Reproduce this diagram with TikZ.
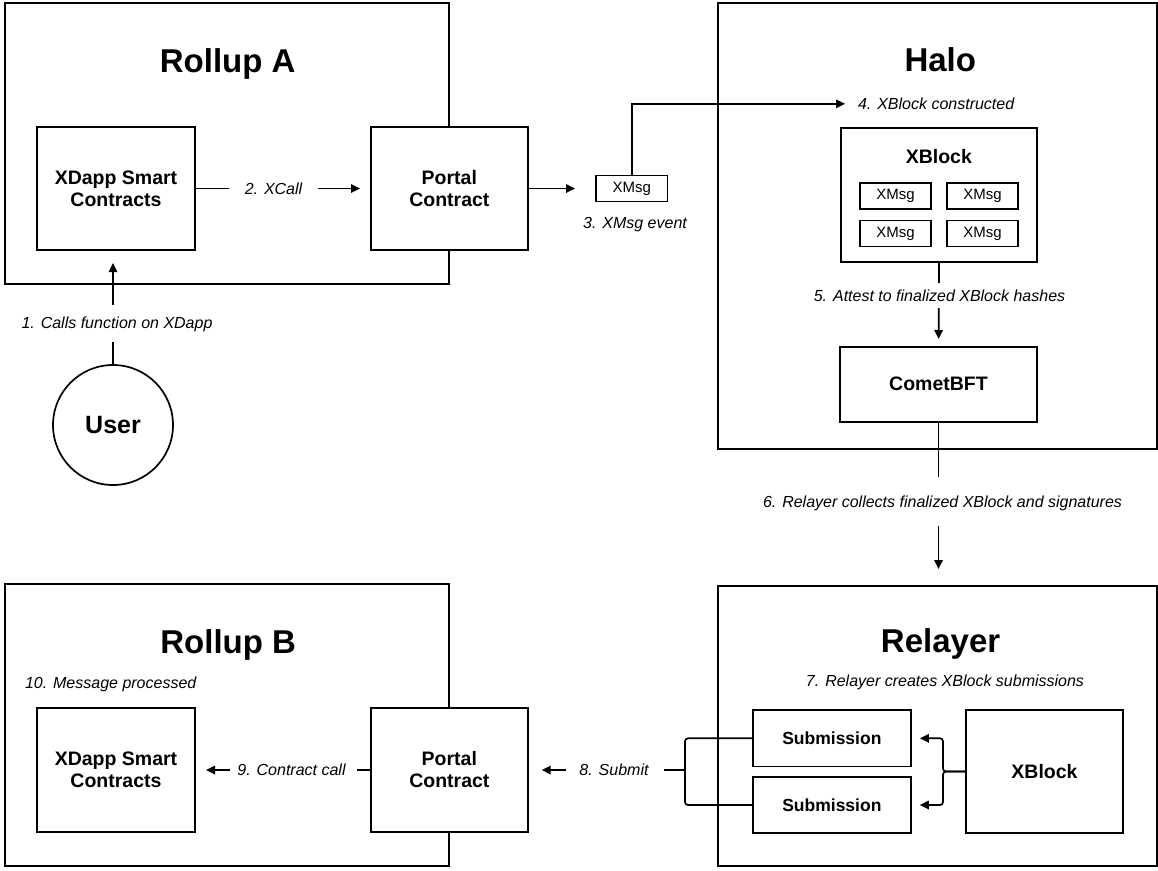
\documentclass[tikz,border=0pt]{standalone}
\usepackage{fontspec}
\setmainfont{Liberation Sans}
\usetikzlibrary{arrows.meta,calc}
\begin{document}
\begin{tikzpicture}[x=1pt,y=-1pt,
  every node/.style={inner sep=0pt, outer sep=0pt},
  frame/.style={draw, line width=1.7pt, rectangle},
  box/.style={draw, line width=1.7pt, fill=white, rectangle, align=center,
    font=\fontsize{19.5}{22}\selectfont\bfseries},
  subbox/.style={box, minimum width=158pt, minimum height=56.5pt,
    font=\fontsize{17.5}{21}\selectfont\bfseries},
  xmsgbox/.style={draw, line width=1.5pt, fill=white, rectangle,
    minimum width=71pt, minimum height=26pt, font=\fontsize{15}{18}\selectfont},
  ttl/.style={font=\fontsize{33}{36}\selectfont\bfseries, anchor=base},
  lbl/.style={font=\fontsize{16}{19}\selectfont\itshape, text height=11.5pt, text depth=0pt},
  conn/.style={line width=1.7pt},
  arr/.style={line width=1.7pt, -{Triangle[length=9pt,width=8.5pt]}}
]
\useasboundingbox (0,0) rectangle (1158,870);
\fill[white] (0,0) rectangle (1158,870);

% outer frames
\node[frame, minimum width=443.7pt, minimum height=281pt] (rollA) at (226.85,143.5) {};
\node[frame, minimum width=439.3pt, minimum height=446.3pt] (halo) at (937.65,226.15) {};
\node[frame, minimum width=443.7pt, minimum height=282pt] (rollB) at (226.85,725) {};
\node[frame, minimum width=439.3pt, minimum height=280pt] (relay) at (937.65,726) {};

% titles
\node[ttl] (tRA) at (227.7,72) {Rollup A};
\node[ttl] (tHalo) at (940.3,71.5) {Halo};
\node[ttl] (tRB) at (228.2,653) {Rollup B};
\node[ttl] (tRel) at (940.6,652) {Relayer};

% Rollup A
\node[box, minimum width=158pt, minimum height=123pt] (xdA) at (116,188.5) {XDapp Smart\\Contracts};
\node[box, minimum width=157.3pt, minimum height=123pt] (poA) at (449.35,188.5) {Portal\\Contract};
\node[xmsgbox, minimum width=71.7pt] (xmsgA) at (631.85,188.5) {XMsg};

% User
\node[draw, circle, line width=1.7pt, minimum size=120pt,
  font=\fontsize{25}{28}\selectfont\bfseries] (user) at (113,425) {User};

% Halo
\node[draw, line width=1.7pt, fill=white, rectangle, minimum width=196.3pt, minimum height=134pt] (xbH) at (938.85,194.7) {};
\node[font=\fontsize{19.5}{22}\selectfont\bfseries] (xbHt) at (938.8,157) {XBlock};
\node[xmsgbox] (m1) at (895.5,196) {XMsg};
\node[xmsgbox] (m2) at (982.5,196) {XMsg};
\node[xmsgbox] (m3) at (895.5,233.7) {XMsg};
\node[xmsgbox] (m4) at (982.5,233.7) {XMsg};
\node[box, minimum width=197pt, minimum height=75pt] (comet) at (938.5,384.2) {CometBFT};

% Rollup B
\node[box, minimum width=158pt, minimum height=124pt] (xdB) at (116,770) {XDapp Smart\\Contracts};
\node[box, minimum width=157.3pt, minimum height=124pt] (poB) at (449.35,770) {Portal\\Contract};

% Relayer
\node[subbox] (sub1) at (831.85,738.3) {Submission};
\node[subbox] (sub2) at (831.85,805) {Submission};
\node[box, minimum width=157pt, minimum height=123pt] (xbR) at (1044.5,771.5) {XBlock};

% labels
\node[lbl] (l1) at (117,323) {1. Calls function on XDapp};
\node[lbl] (l2) at (273.5,188.5) {2. XCall};
\node[lbl] (l3) at (635,222.7) {3. XMsg event};
\node[lbl, anchor=west] (l4) at (858,103.8) {4. XBlock constructed};
\node[lbl] (l5) at (939.5,296) {5. Attest to finalized XBlock hashes};
\node[lbl] (l6) at (942.5,501.7) {6. Relayer collects finalized XBlock and signatures};
\node[lbl] (l7) at (945,681) {7. Relayer creates XBlock submissions};
\node[lbl] (l8) at (614,770) {8. Submit};
\node[lbl] (l9) at (291.5,770) {9. Contract call};
\node[lbl, anchor=west] (l10) at (25,683) {10. Message processed};

% 1
\draw[conn, shorten >=13.25pt] (user.north) -- (user.north |- l1.south);
\draw[arr, shorten <=12.25pt, shorten >=13pt] (user.north |- l1.north) -- (user.north |- xdA.south);
% 2
\draw[conn, shorten >=16pt] (xdA.east) -- (l2.west);
\draw[arr, shorten <=16pt, shorten >=10.7pt] (l2.east) -- (poA.west);
% 3
\draw[arr, shorten >=21pt] (poA.east) -- (xmsgA.west);
% 4
\draw[arr, shorten >=13pt] (xmsgA.north) |- (l4.west);
% 5
\draw[conn, shorten >=7.25pt] (xbH.south) -- (xbH.south |- l5.north);
\draw[arr, shorten <=6.25pt, shorten >=7.7pt] (xbH.south |- l5.south) -- (comet.north);
% 6
\draw[conn, shorten >=19.25pt] (comet.south) -- (comet.south |- l6.north);
\draw[arr, shorten <=18.55pt, shorten >=17pt] (comet.south |- l6.south) -- (comet.south |- relay.north);
% 7 relayer internal
\coordinate (jr) at ($(xbR.west)+(-23,0)$);
\draw[arr, rounded corners=3pt, shorten >=9pt] (xbR.west) -- (jr) |- (sub1.east);
\draw[arr, rounded corners=3pt, shorten >=9pt] (xbR.west) -- (jr) |- (sub2.east);
% 8
\coordinate (brk) at (685,770);
\draw[conn, rounded corners=3pt] (sub1.west) -| (brk) |- (sub2.west);
\draw[conn, shorten >=15pt] (brk) -- (l8.east);
\draw[arr, shorten <=13pt, shorten >=13.7pt] (l8.west) -- (poB.east);
% 9
\draw[conn, shorten >=11pt] (poB.west) -- (l9.east);
\draw[arr, shorten <=7pt, shorten >=11pt] (l9.west) -- (xdB.east);
\end{tikzpicture}
\end{document}
